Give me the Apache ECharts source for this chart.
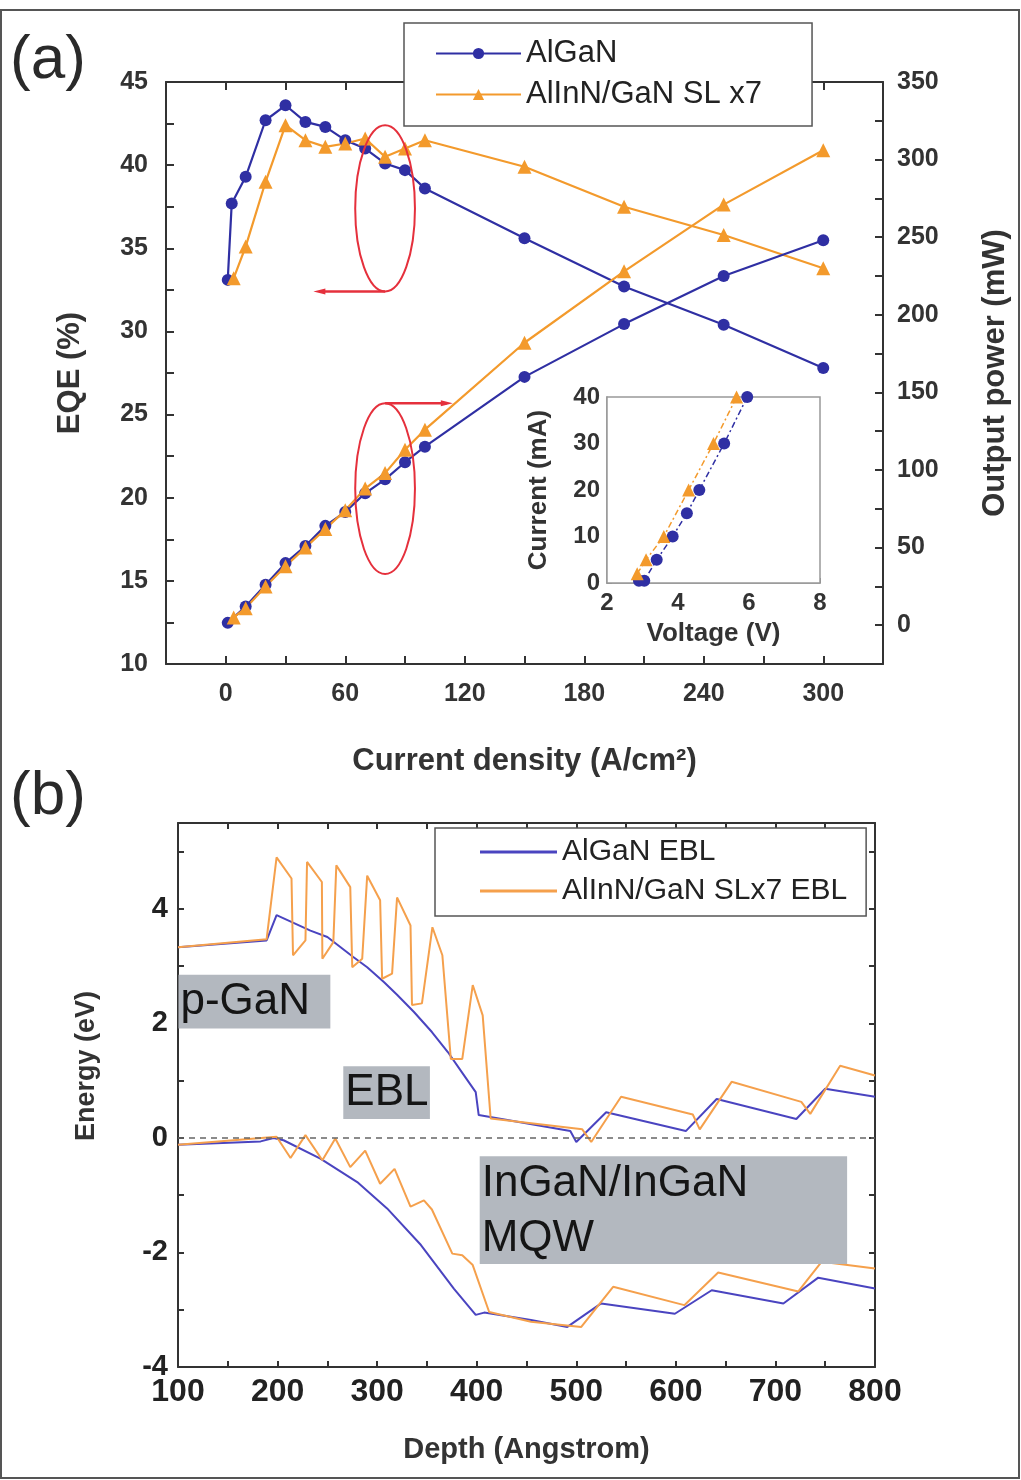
<!DOCTYPE html>
<html lang="en">
<head>
<meta charset="UTF-8">
<title>EQE / band diagram</title>
<script src="https://cdn.jsdelivr.net/npm/echarts@6/dist/echarts.min.js"></script>
<style>
  html, body { margin: 0; padding: 0; background: #fff; }
  #main { width: 1021px; height: 1480px; }
</style>
</head>
<body>
<div id="main"></div>
<script>
// (a) EQE and output power vs current density
var jAlGaN = [1, 3, 10, 20, 30, 40, 50, 60, 70, 80, 90, 100, 150, 200, 250, 300];
var eqeAlGaN = [33.1, 37.7, 39.3, 42.7, 43.6, 42.6, 42.3, 41.5, 41.0, 40.1, 39.7, 38.6, 35.6, 32.7, 30.4, 27.8];
var jSL = [4, 10, 20, 30, 40, 50, 60, 70, 80, 90, 100, 150, 200, 250, 300];
var eqeSL = [33.2, 35.1, 39.0, 42.4, 41.5, 41.1, 41.3, 41.6, 40.5, 41.0, 41.5, 39.9, 37.5, 35.8, 33.8];
var jPowAlGaN = [1, 10, 20, 30, 40, 50, 60, 70, 80, 90, 100, 150, 200, 250, 300];
var powAlGaN = [1.5, 12, 26, 40, 51, 64, 73, 85, 94, 105, 115, 160, 194, 225, 248];
var powSL = [5, 11, 25, 38, 50, 62, 74, 88, 98, 113, 126, 182, 228, 271, 306];

// inset I-V
var vAlGaN = [2.9, 3.05, 3.4, 3.85, 4.25, 4.6, 5.3, 5.95];
var iAlGaN = [0.5, 0.5, 5, 10, 15, 20, 30, 40];
var vSL = [2.85, 3.1, 3.6, 4.3, 5.0, 5.65];
var iSL = [2, 5, 10, 20, 30, 40];

// (b) band diagram: [depth, energy]
var cbAlGaN = [[100, 3.33], [189, 3.45], [199, 3.89], [233, 3.62], [250, 3.51], [276, 3.16], [290, 2.98], [307, 2.72],
  [320, 2.5], [337, 2.2], [355, 1.85], [371, 1.5], [385, 1.15], [399, 0.8], [402, 0.4], [494, 0.12], [500, -0.07],
  [530, 0.45], [610, 0.12], [641, 0.68], [721, 0.33], [750, 0.86], [800, 0.72]];
var cbSL = [[100, 3.33], [189, 3.47], [199, 4.9], [214, 4.53], [215.5, 3.19], [228, 3.45], [229.6, 4.82], [244.5, 4.47],
  [245, 3.13], [256, 3.42], [259, 4.76], [273, 4.38], [275, 2.98], [285, 3.13], [290, 4.58], [303, 4.15], [305, 2.78],
  [315, 2.87], [320, 4.2], [333.5, 3.71], [335, 2.32], [345, 2.35], [355.5, 3.68], [365.5, 3.19], [374, 1.38],
  [385.5, 1.38], [396, 2.67], [406, 2.14], [414, 0.34], [416, 0.37], [506, 0.15], [515, -0.07], [545, 0.72],
  [617, 0.41], [624, 0.15], [656, 0.98], [726, 0.63], [735, 0.42], [765, 1.26], [800, 1.09]];
var vbAlGaN = [[100, -0.12], [183, -0.06], [196, 0], [206, -0.04], [243, -0.36], [280, -0.77], [310, -1.23],
  [344, -1.87], [377, -2.63], [399, -3.09], [407.5, -3.05], [454.5, -3.18], [491, -3.30], [525, -2.89],
  [599, -3.07], [636, -2.66], [708, -2.89], [743, -2.44], [800, -2.63]];
var vbSL = [[100, -0.12], [199, 0.02], [213, -0.35], [228, 0.05], [245, -0.39], [258, -0.01], [273, -0.51],
  [288, -0.22], [303, -0.8], [317.5, -0.54], [333.5, -1.2], [347, -1.09], [355, -1.25], [375.5, -2.02],
  [385.5, -2.05], [396, -2.22], [412.5, -3.04], [454.5, -3.21], [505, -3.30], [537, -2.60], [608.5, -2.92],
  [642.5, -2.35], [723, -2.68], [746.5, -2.16], [800, -2.28]];

var regions = [
  { text: 'p-GaN', from: [100.5, 2.85], to: [253, 1.91] },
  { text: 'EBL', from: [266, 1.25], to: [353, 0.33] },
  { text: 'InGaN/InGaN\nMQW', from: [403, -0.32], to: [772, -2.2] }
];

var FONT = 'Liberation Sans, Arial, sans-serif';
var BLUE = '#2f2fa3', ORANGE = '#f39a2c';
var BLUE_B = '#4a44c0', ORANGE_B = '#f5a04c';

function zip(a, b) { return a.map(function (v, i) { return [v, b[i]]; }); }

function every(step) {
  return function (v) { return Math.abs(v % step) < 1e-6 ? String(v) : ''; };
}

function axisBase(extra) {
  var o = {
    type: 'value',
    axisLine: { show: true, onZero: false, lineStyle: { color: '#333', width: 2 } },
    axisTick: { show: true, inside: true, length: 8, lineStyle: { color: '#333', width: 2 } },
    splitLine: { show: false },
    axisLabel: { fontFamily: FONT, fontWeight: 'bold', fontSize: 25, color: '#333' },
    nameTextStyle: { fontFamily: FONT, fontWeight: 'bold', fontSize: 31, color: '#333' },
    nameLocation: 'middle'
  };
  for (var k in extra) o[k] = extra[k];
  return o;
}

var chart = echarts.init(document.getElementById('main'), null, { renderer: 'canvas' });

var option = {
  animation: false,
  backgroundColor: '#fff',
  grid: [
    { left: 166, top: 82, width: 717, height: 582 },
    { left: 607, top: 397, width: 213, height: 186, show: true, backgroundColor: '#fff', borderColor: '#999', borderWidth: 1.5, z: 3 },
    { left: 178, top: 823, width: 697, height: 544 }
  ],
  legend: [
    {
      data: ['AlGaN', 'AlInN/GaN SL x7'],
      orient: 'vertical', left: 404, top: 23, padding: [15, 50, 16, 31], itemGap: 10,
      itemWidth: 85, itemHeight: 14, selectedMode: false,
      backgroundColor: '#fff', borderColor: '#555', borderWidth: 1.5,
      textStyle: { fontFamily: FONT, fontSize: 31, color: '#222' }
    },
    {
      data: [{ name: 'AlGaN EBL', icon: 'rect' }, { name: 'AlInN/GaN SLx7 EBL', icon: 'rect' }],
      orient: 'vertical', left: 435, top: 828, padding: [9, 19, 10, 45], itemGap: 9,
      itemWidth: 77, itemHeight: 3, selectedMode: false,
      backgroundColor: '#fff', borderColor: '#555', borderWidth: 1.5,
      textStyle: { fontFamily: FONT, fontSize: 30, color: '#222', lineHeight: 30 }
    }
  ],
  xAxis: [
    axisBase({ gridIndex: 0, position: 'bottom', min: -30, max: 330, interval: 30,
      name: 'Current density (A/cm²)', nameGap: 82,
      axisLabel: { formatter: every(60), margin: 18, fontFamily: FONT, fontWeight: 'bold', fontSize: 25, color: '#333' } }),
    axisBase({ gridIndex: 0, position: 'top', min: -30, max: 330, interval: 30, axisLabel: { show: false } }),
    axisBase({ gridIndex: 1, position: 'bottom', min: 2, max: 8, interval: 2,
      name: 'Voltage (V)', nameGap: 38,
      axisLine: { show: true, onZero: false, lineStyle: { color: '#888', width: 1.5 } },
      axisTick: { show: true, inside: true, length: 5, lineStyle: { color: '#888' } },
      axisLabel: { margin: 8, fontFamily: FONT, fontWeight: 'bold', fontSize: 24, color: '#333' },
      nameTextStyle: { fontFamily: FONT, fontWeight: 'bold', fontSize: 26, color: '#333' } }),
    axisBase({ gridIndex: 2, position: 'bottom', min: 100, max: 800, interval: 50,
      name: 'Depth (Angstrom)', nameGap: 68,
      axisTick: { show: true, inside: true, length: 6, lineStyle: { color: '#333', width: 2 } },
      axisLabel: { formatter: every(100), margin: 9, fontFamily: FONT, fontWeight: 'bold', fontSize: 32, color: '#222' },
      nameTextStyle: { fontFamily: FONT, fontWeight: 'bold', fontSize: 29, color: '#333' } }),
    axisBase({ gridIndex: 2, position: 'top', min: 100, max: 800, interval: 50, axisLabel: { show: false },
      axisTick: { show: true, inside: true, length: 6, lineStyle: { color: '#333', width: 2 } } })
  ],
  yAxis: [
    axisBase({ gridIndex: 0, position: 'left', min: 10, max: 45, interval: 2.5,
      name: 'EQE (%)', nameGap: 80, nameRotate: 90,
      axisLabel: { formatter: every(5), margin: 18, fontFamily: FONT, fontWeight: 'bold', fontSize: 25, color: '#333' } }),
    axisBase({ gridIndex: 0, position: 'right', min: -25, max: 350, interval: 25,
      name: 'Output power (mW)', nameGap: 97, nameRotate: 90,
      axisLabel: { formatter: every(50), margin: 14, fontFamily: FONT, fontWeight: 'bold', fontSize: 25, color: '#333' } }),
    axisBase({ gridIndex: 1, position: 'left', min: 0, max: 40, interval: 10,
      name: 'Current (mA)', nameGap: 55, nameRotate: 90,
      axisLine: { show: true, onZero: false, lineStyle: { color: '#888', width: 1.5 } },
      axisTick: { show: true, inside: true, length: 5, lineStyle: { color: '#888' } },
      axisLabel: { margin: 7, fontFamily: FONT, fontWeight: 'bold', fontSize: 24, color: '#333' },
      nameTextStyle: { fontFamily: FONT, fontWeight: 'bold', fontSize: 26, color: '#333' } }),
    axisBase({ gridIndex: 2, position: 'left', min: -4, max: 5.5, interval: 1,
      name: 'Energy (eV)', nameGap: 78, nameRotate: 90,
      axisTick: { show: true, inside: true, length: 6, lineStyle: { color: '#333', width: 2 } },
      axisLabel: { formatter: every(2), margin: 10, fontFamily: FONT, fontWeight: 'bold', fontSize: 29, color: '#222' },
      nameTextStyle: { fontFamily: FONT, fontWeight: 'bold', fontSize: 27, color: '#333', padding: [0, 0, 0, 58] } }),
    axisBase({ gridIndex: 2, position: 'right', min: -4, max: 5.5, interval: 1, axisLabel: { show: false },
      axisTick: { show: true, inside: true, length: 6, lineStyle: { color: '#333', width: 2 } } })
  ],
  series: [
    { name: 'AlGaN', type: 'line', xAxisIndex: 0, yAxisIndex: 0, data: zip(jAlGaN, eqeAlGaN),
      symbol: 'circle', symbolSize: 12, color: BLUE, lineStyle: { width: 2.2 } },
    { name: 'AlInN/GaN SL x7', type: 'line', xAxisIndex: 0, yAxisIndex: 0, data: zip(jSL, eqeSL),
      symbol: 'triangle', symbolSize: 14, color: ORANGE, lineStyle: { width: 2.2 } },
    { name: 'AlGaN', type: 'line', xAxisIndex: 0, yAxisIndex: 1, data: zip(jPowAlGaN, powAlGaN),
      symbol: 'circle', symbolSize: 12, color: BLUE, lineStyle: { width: 2.2 } },
    { name: 'AlInN/GaN SL x7', type: 'line', xAxisIndex: 0, yAxisIndex: 1, data: zip(jSL, powSL),
      symbol: 'triangle', symbolSize: 14, color: ORANGE, lineStyle: { width: 2.2 } },
    { name: 'AlGaN', type: 'line', xAxisIndex: 2, yAxisIndex: 2, data: zip(vAlGaN, iAlGaN), z: 4,
      symbol: 'circle', symbolSize: 12, color: BLUE, lineStyle: { width: 1.5, type: [6, 3, 2, 3] } },
    { name: 'AlInN/GaN SL x7', type: 'line', xAxisIndex: 2, yAxisIndex: 2, data: zip(vSL, iSL), z: 4,
      symbol: 'triangle', symbolSize: 13, color: ORANGE, lineStyle: { width: 1.5, type: [6, 3, 2, 3] } },
    { name: 'AlGaN EBL', type: 'line', xAxisIndex: 3, yAxisIndex: 3, data: cbAlGaN,
      symbol: 'none', color: BLUE_B, lineStyle: { width: 2 },
      markLine: { silent: true, symbol: 'none', label: { show: false },
        lineStyle: { color: '#666', type: [6, 5], width: 1.5 }, data: [{ yAxis: 0 }] } },
    { name: 'AlGaN EBL', type: 'line', xAxisIndex: 3, yAxisIndex: 3, data: vbAlGaN,
      symbol: 'none', color: BLUE_B, lineStyle: { width: 2 } },
    { name: 'AlInN/GaN SLx7 EBL', type: 'line', xAxisIndex: 3, yAxisIndex: 3, data: cbSL,
      symbol: 'none', color: ORANGE_B, lineStyle: { width: 2 } },
    { name: 'AlInN/GaN SLx7 EBL', type: 'line', xAxisIndex: 3, yAxisIndex: 3, data: vbSL,
      symbol: 'none', color: ORANGE_B, lineStyle: { width: 2 } }
  ]
};

chart.setOption(option);

// annotations placed through the chart's own coordinate conversion
function px(xi, yi, pt) { return chart.convertToPixel({ xAxisIndex: xi, yAxisIndex: yi }, pt); }

var graphics = [];
var RED = '#e5303c';

// EQE ellipse + arrow to the left axis
var e1c = px(0, 0, [80, 37.4]), e1r = px(0, 0, [95, 42.4]);
var e1rx = e1r[0] - e1c[0], e1ry = e1c[1] - e1r[1];
var a1 = px(0, 0, [47, 32.4]);
graphics.push({ type: 'ellipse', z: 10, shape: { cx: e1c[0], cy: e1c[1], rx: e1rx, ry: e1ry },
  style: { fill: 'none', stroke: RED, lineWidth: 2 } });
graphics.push({ type: 'line', z: 10, shape: { x1: e1c[0], y1: e1c[1] + e1ry, x2: a1[0], y2: e1c[1] + e1ry },
  style: { stroke: RED, lineWidth: 2.5 } });
graphics.push({ type: 'polygon', z: 10, shape: { points: [[a1[0] - 6, e1c[1] + e1ry], [a1[0] + 6, e1c[1] + e1ry - 3], [a1[0] + 6, e1c[1] + e1ry + 3]] },
  style: { fill: RED } });

// power ellipse + arrow to the right axis
var e2c = px(0, 1, [80, 88]), e2r = px(0, 1, [95, 143]);
var e2rx = e2r[0] - e2c[0], e2ry = e2c[1] - e2r[1];
var a2 = px(0, 1, [111, 143]);
graphics.push({ type: 'ellipse', z: 10, shape: { cx: e2c[0], cy: e2c[1], rx: e2rx, ry: e2ry },
  style: { fill: 'none', stroke: RED, lineWidth: 2 } });
graphics.push({ type: 'line', z: 10, shape: { x1: e2c[0], y1: e2c[1] - e2ry, x2: a2[0], y2: e2c[1] - e2ry },
  style: { stroke: RED, lineWidth: 2.5 } });
graphics.push({ type: 'polygon', z: 10, shape: { points: [[a2[0] + 6, e2c[1] - e2ry], [a2[0] - 6, e2c[1] - e2ry - 3], [a2[0] - 6, e2c[1] - e2ry + 3]] },
  style: { fill: RED } });

// gray region labels in (b)
regions.forEach(function (r) {
  var p0 = px(3, 3, r.from), p1 = px(3, 3, r.to);
  graphics.push({ type: 'rect', z: 8, shape: { x: p0[0], y: p0[1], width: p1[0] - p0[0], height: p1[1] - p0[1] },
    style: { fill: '#b3b8bf' } });
  var multi = r.text.indexOf('\n') >= 0;
  graphics.push({ type: 'text', z: 9, x: p0[0] + 2, y: multi ? p0[1] : (p0[1] + p1[1]) / 2,
    style: { text: r.text, font: '44px ' + FONT, fill: '#151515', lineHeight: 55,
      verticalAlign: multi ? 'top' : 'middle', align: 'left' } });
});

// panel letters and outer frame
graphics.push({ type: 'text', z: 10, x: 10, y: 30, style: { text: '(a)', font: '62px ' + FONT, fill: '#2a2a2a' } });
graphics.push({ type: 'text', z: 10, x: 10, y: 766, style: { text: '(b)', font: '62px ' + FONT, fill: '#2a2a2a' } });
graphics.push({ type: 'rect', z: 10, shape: { x: 1, y: 10, width: 1018, height: 1468 },
  style: { fill: 'none', stroke: '#555', lineWidth: 2 } });

chart.setOption({ graphic: graphics });
</script>
</body>
</html>
